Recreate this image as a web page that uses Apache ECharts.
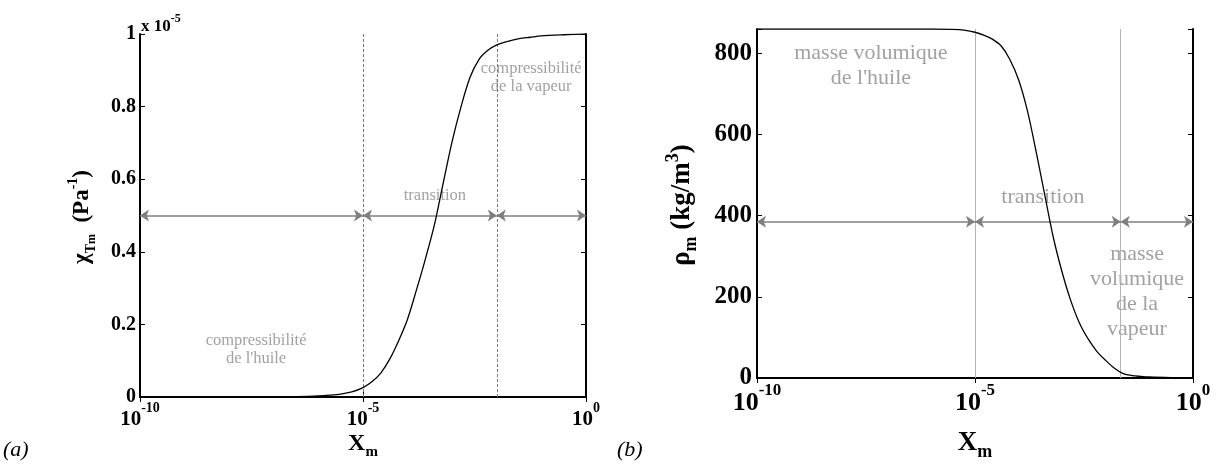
<!DOCTYPE html>
<html>
<head>
<meta charset="utf-8">
<title>Compressibilité et masse volumique du mélange</title>
<script src="https://cdn.jsdelivr.net/npm/echarts@6.0.0/dist/echarts.min.js"></script>
<style>
  html, body { margin: 0; padding: 0; background: #fff; }
  #chart { width: 1216px; height: 465px; }
</style>
</head>
<body>
<div id="chart"></div>
<script>
// fraction massique X_m (axe log) et valeurs
var chiX = [1e-10, 1e-7, 3.16e-7, 1e-6, 1.78e-6, 3.16e-6, 5.6e-6, 1e-5, 1.58e-5, 2.5e-5,
  4e-5, 6.3e-5, 1e-4, 1.58e-4, 2.5e-4, 4e-4, 6.3e-4, 1e-3, 1.58e-3, 2.5e-3, 4e-3, 6.3e-3,
  1e-2, 1.78e-2, 3.16e-2, 5.6e-2, 0.1, 0.316, 1];
// compressibilité du mélange, unité 1e-5 Pa^-1
var chiVal = [0, 0, 0.001, 0.003, 0.005, 0.008, 0.014, 0.026, 0.042, 0.066,
  0.105, 0.155, 0.215, 0.295, 0.38, 0.475, 0.59, 0.705, 0.8, 0.88, 0.93, 0.955,
  0.97, 0.98, 0.987, 0.991, 0.995, 0.998, 1];

var rhoX = [1e-10, 1e-6, 3.16e-6, 5.6e-6, 1e-5, 1.58e-5, 2.5e-5, 4e-5, 6.3e-5, 1e-4,
  1.58e-4, 2.5e-4, 4e-4, 6.3e-4, 1e-3, 1.58e-3, 2.5e-3, 4e-3, 6.3e-3, 1e-2,
  1.58e-2, 2.5e-2, 4e-2, 6.3e-2, 0.1, 0.316, 1];
// masse volumique du mélange, kg/m3
var rhoVal = [860, 860, 859, 857, 852, 845, 835, 818, 785, 735,
  660, 560, 450, 345, 260, 190, 135, 95, 65, 43,
  24, 11, 6, 4, 2.5, 1, 0.4];

// limites des zones et hauteur des flèches
var chiBounds = [1e-10, 1e-5, 1e-2, 1];
var chiArrowY = 0.5;
var rhoBounds = [1e-10, 1e-5, 2.2e-2, 1];
var rhoArrowY = 385;

// annotations
var chiNoteText = ['compressibilité\nde l\'huile', 'transition', 'compressibilité\nde la vapeur'];
var chiNoteX = [4e-8, 4.1e-4, 5.9e-2];
var chiNoteY = [0.13, 0.556, 0.88];
var rhoNoteText = ['masse volumique\nde l\'huile', 'transition', 'masse\nvolumique\nde la\nvapeur'];
var rhoNoteX = [4.1e-8, 3.6e-4, 5.2e-2];
var rhoNoteY = [770, 446, 212];

var SERIF = '"Liberation Serif", "Times New Roman", serif';
var GREY = '#8a8a8a';

function zip(xs, ys) {
  return xs.map(function each(x, i) { return [x, ys[i]]; });
}

function notes(texts, xs, ys) {
  return texts.map(function each(t, i) { return { name: t, value: [xs[i], ys[i]] }; });
}

function arrows(bounds, y) {
  var out = [];
  var i;
  for (i = 0; i < bounds.length - 1; i++) {
    out.push([{ coord: [bounds[i], y] }, { coord: [bounds[i + 1], y] }]);
  }
  return out;
}

function verticals(bounds, top) {
  return [
    [{ coord: [bounds[1], 0] }, { coord: [bounds[1], top] }],
    [{ coord: [bounds[2], 0] }, { coord: [bounds[2], top] }]
  ];
}

function powLabel(v) {
  var e = Math.round(Math.log(v) / Math.LN10);
  return '{b|10}{s|' + e + '}';
}

function xAxis(grid, pos, size) {
  return {
    type: 'log',
    logBase: 100000,
    min: 1e-10,
    max: 1,
    gridIndex: grid,
    position: pos,
    axisLine: { lineStyle: { color: '#000', width: 2 } },
    axisTick: { inside: true, length: 5, lineStyle: { color: '#000', width: 1 } },
    splitLine: { show: false },
    axisLabel: {
      show: pos === 'bottom',
      margin: 4,
      formatter: powLabel,
      rich: {
        b: { fontFamily: SERIF, fontWeight: 'bold', fontSize: size, color: '#000', lineHeight: size + 8, verticalAlign: 'bottom' },
        s: { fontFamily: SERIF, fontWeight: 'bold', fontSize: Math.round(size * 0.65), color: '#000', lineHeight: size * 0.7, verticalAlign: 'top' }
      }
    }
  };
}

function yAxis(grid, pos, max, size, margin) {
  return {
    type: 'value',
    min: 0,
    max: max,
    interval: max > 10 ? 200 : 0.2,
    gridIndex: grid,
    position: pos,
    axisLine: { lineStyle: { color: '#000', width: 2 } },
    axisTick: { inside: true, length: 5, lineStyle: { color: '#000', width: 1 } },
    splitLine: { show: false },
    axisLabel: {
      show: pos === 'left',
      margin: margin,
      fontFamily: SERIF,
      fontWeight: 'bold',
      fontSize: size,
      color: '#000',
      formatter: function fmt(v) {
        if (max > 10 && v % 200 !== 0) {
          return '';
        }
        return String(v);
      }
    }
  };
}

function curve(name, data, axis, bounds, top, dashed) {
  return {
    name: name,
    type: 'line',
    xAxisIndex: axis,
    yAxisIndex: axis,
    data: data,
    showSymbol: false,
    smooth: 0.3,
    z: 5,
    lineStyle: { color: '#000', width: 1.3 },
    markLine: {
      silent: true,
      symbol: 'none',
      label: { show: false },
      lineStyle: dashed ?
        { color: '#7a7a7a', width: 1, type: [3, 2] } :
        { color: '#b4b4b4', width: 1, type: 'solid' },
      data: verticals(bounds, top)
    }
  };
}

function annot(data, axis, size, lh, bounds, y) {
  return {
    type: 'scatter',
    xAxisIndex: axis,
    yAxisIndex: axis,
    data: data,
    symbolSize: 1,
    z: 3,
    itemStyle: { color: 'rgba(0,0,0,0)' },
    label: {
      show: true,
      position: 'inside',
      formatter: function fmt(p) { return p.name; },
      fontFamily: SERIF,
      fontSize: size,
      lineHeight: lh,
      color: GREY,
      align: 'center'
    },
    markLine: {
      silent: true,
      symbol: ['arrow', 'arrow'],
      symbolSize: [9, 9],
      label: { show: false },
      lineStyle: { color: '#7f7f7f', width: 1.6, type: 'solid' },
      data: arrows(bounds, y)
    }
  };
}

function text(x, y, content, rich, opts) {
  return {
    type: 'text',
    x: x,
    y: y,
    rotation: opts.rotation || 0,
    style: {
      text: content,
      rich: rich,
      align: opts.align || 'center',
      verticalAlign: 'middle',
      font: 'bold 20px ' + SERIF,
      fill: '#000'
    }
  };
}

function tok(size, lh, va, style) {
  return {
    fontFamily: SERIF,
    fontWeight: style === 'italic' ? 'normal' : 'bold',
    fontStyle: style === 'italic' ? 'italic' : 'normal',
    fontSize: size,
    lineHeight: lh,
    verticalAlign: va,
    color: '#000'
  };
}

var chart = echarts.init(document.getElementById('chart'));

var option = {
  animation: false,
  backgroundColor: '#fff',
  grid: [
    { left: 140, top: 34, width: 446, height: 363 },
    { left: 757, top: 29, width: 436, height: 349 }
  ],
  xAxis: [
    xAxis(0, 'bottom', 21),
    xAxis(1, 'bottom', 26),
    xAxis(0, 'top', 21),
    xAxis(1, 'top', 26)
  ],
  yAxis: [
    yAxis(0, 'left', 1, 20, 4),
    yAxis(1, 'left', 860, 25, 5),
    yAxis(0, 'right', 1, 20, 4),
    yAxis(1, 'right', 860, 25, 5)
  ],
  series: [
    curve('chi', zip(chiX, chiVal), 0, chiBounds, 1, true),
    annot(notes(chiNoteText, chiNoteX, chiNoteY), 0, 16.5, 18, chiBounds, chiArrowY),
    curve('rho', zip(rhoX, rhoVal), 1, rhoBounds, 860, false),
    annot(notes(rhoNoteText, rhoNoteX, rhoNoteY), 1, 22, 25, rhoBounds, rhoArrowY)
  ],
  graphic: [
    text(82, 217, '{b|χ}{s|T}{ss|m}{b|  (Pa}{p|-1}{b|)}', {
      b: tok(23, 32, 'middle'),
      s: tok(14, 14, 'bottom'),
      ss: tok(12, 6, 'bottom'),
      p: tok(14, 14, 'top')
    }, { rotation: Math.PI / 2 }),
    text(682, 205, '{b|ρ}{s|m}{b| (kg/m}{p|3}{b|)}', {
      b: tok(27, 36, 'middle'),
      s: tok(18, 18, 'bottom'),
      p: tok(18, 18, 'top')
    }, { rotation: Math.PI / 2 }),
    text(363, 444, '{b|X}{s|m}', {
      b: tok(24, 32, 'middle'),
      s: tok(15, 15, 'bottom')
    }, {}),
    text(975, 443, '{b|X}{s|m}', {
      b: tok(27, 36, 'middle'),
      s: tok(18, 18, 'bottom')
    }, {}),
    text(141, 24, '{b|x 10}{p|-5}', {
      b: tok(17, 22, 'bottom'),
      p: tok(12, 12, 'top')
    }, { align: 'left' }),
    text(3, 450, '{i|(a)}', { i: tok(22, 26, 'middle', 'italic') }, { align: 'left' }),
    text(617, 450, '{i|(b)}', { i: tok(22, 26, 'middle', 'italic') }, { align: 'left' })
  ]
};

chart.setOption(option);
</script>
</body>
</html>
